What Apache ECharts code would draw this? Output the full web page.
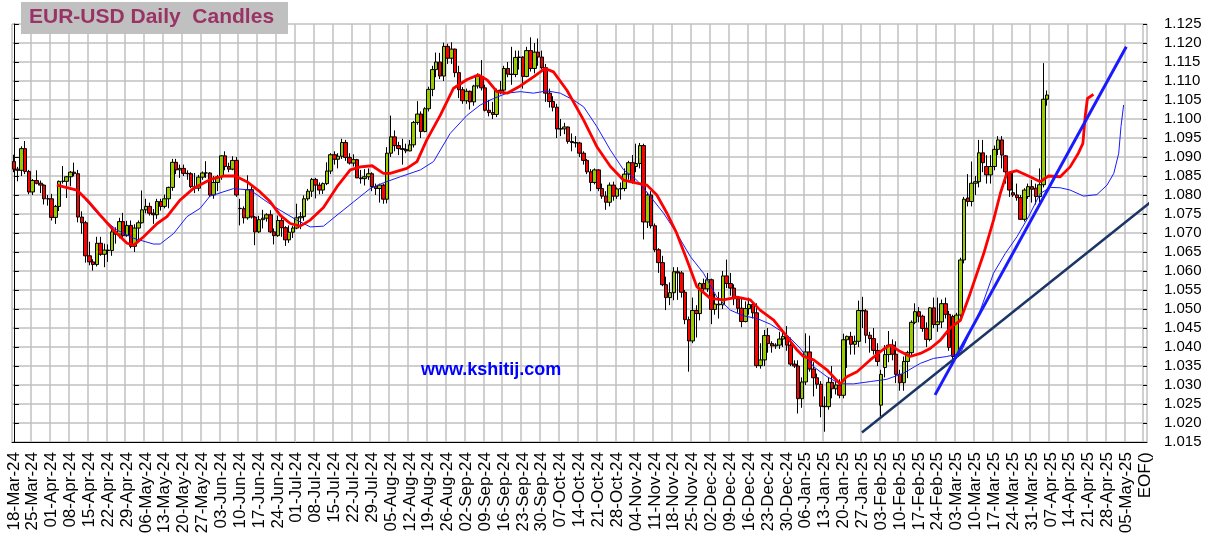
<!DOCTYPE html>
<html><head><meta charset="utf-8">
<script src="https://cdn.jsdelivr.net/npm/echarts@6/dist/echarts.min.js"></script>
<style>html,body{margin:0;padding:0;background:#fff}#c{width:1210px;height:546px}</style>
</head><body><div id="c"></div>
<script>
// Weekly (Monday) tick labels; each week holds 5 trading-day slots
const weekLabels = ['18-Mar-24','25-Mar-24','01-Apr-24','08-Apr-24','15-Apr-24','22-Apr-24','29-Apr-24','06-May-24','13-May-24','20-May-24','27-May-24','03-Jun-24','10-Jun-24','17-Jun-24','24-Jun-24','01-Jul-24','08-Jul-24','15-Jul-24','22-Jul-24','29-Jul-24','05-Aug-24','12-Aug-24','19-Aug-24','26-Aug-24','02-Sep-24','09-Sep-24','16-Sep-24','23-Sep-24','30-Sep-24','07-Oct-24','14-Oct-24','21-Oct-24','28-Oct-24','04-Nov-24','11-Nov-24','18-Nov-24','25-Nov-24','02-Dec-24','09-Dec-24','16-Dec-24','23-Dec-24','30-Dec-24','06-Jan-25','13-Jan-25','20-Jan-25','27-Jan-25','03-Feb-25','10-Feb-25','17-Feb-25','24-Feb-25','03-Mar-25','10-Mar-25','17-Mar-25','24-Mar-25','31-Mar-25','07-Apr-25','14-Apr-25','21-Apr-25','28-Apr-25','05-May-25'];
const endLabel = 'EOF()';
const yMin = 1.015, yMax = 1.125, yStep = 0.005;

// Daily candles [open, close, low, high], one array per month
const c24_03 = [
[1.0888,1.0868,1.0860,1.0906],[1.0868,1.0865,1.0836,1.0874],[1.0865,1.0922,1.0850,1.0928],[1.0922,1.0862,1.0855,1.0942],[1.0862,1.0808,1.0802,1.0866],
[1.0808,1.0838,1.0800,1.0842],[1.0838,1.0831,1.0828,1.0865],[1.0831,1.0826,1.0805,1.0838],[1.0826,1.0790,1.0775,1.0828],[1.0790,1.0790,1.0772,1.0800]];
const c24_04 = [
[1.0790,1.0741,1.0733,1.0803],[1.0741,1.0770,1.0724,1.0774],[1.0770,1.0836,1.0758,1.0838],[1.0836,1.0836,1.0830,1.0876],[1.0836,1.0848,1.0792,1.0850],
[1.0848,1.0860,1.0823,1.0863],[1.0860,1.0856,1.0849,1.0885],[1.0856,1.0742,1.0728,1.0866],[1.0742,1.0727,1.0698,1.0757],[1.0727,1.0640,1.0622,1.0732],
[1.0640,1.0624,1.0615,1.0677],[1.0624,1.0617,1.0601,1.0631],[1.0617,1.0673,1.0612,1.0690],[1.0673,1.0644,1.0640,1.0690],[1.0644,1.0655,1.0610,1.0672],
[1.0655,1.0654,1.0624,1.0670],[1.0654,1.0703,1.0640,1.0714],[1.0703,1.0697,1.0672,1.0715],[1.0697,1.0730,1.0686,1.0740],[1.0730,1.0693,1.0681,1.0753],
[1.0693,1.0720,1.0690,1.0732],[1.0720,1.0665,1.0660,1.0733]];
const c24_05 = [
[1.0665,1.0713,1.0650,1.0723],[1.0713,1.0727,1.0680,1.0733],[1.0727,1.0761,1.0725,1.0812],
[1.0761,1.0770,1.0752,1.0790],[1.0770,1.0752,1.0746,1.0780],[1.0752,1.0748,1.0724,1.0763],[1.0748,1.0783,1.0737,1.0790],[1.0783,1.0770,1.0759,1.0790],
[1.0770,1.0790,1.0765,1.0801],[1.0790,1.0820,1.0765,1.0822],[1.0820,1.0886,1.0811,1.0895],[1.0886,1.0866,1.0855,1.0895],[1.0866,1.0870,1.0845,1.0880],
[1.0870,1.0857,1.0850,1.0880],[1.0857,1.0856,1.0840,1.0865],[1.0856,1.0822,1.0818,1.0860],[1.0822,1.0818,1.0805,1.0858],[1.0818,1.0847,1.0810,1.0853],
[1.0847,1.0858,1.0840,1.0862],[1.0858,1.0858,1.0845,1.0889],[1.0858,1.0800,1.0795,1.0860],[1.0800,1.0833,1.0790,1.0850],[1.0833,1.0848,1.0810,1.0853]];
const c24_06 = [
[1.0848,1.0903,1.0840,1.0905],[1.0903,1.0875,1.0865,1.0915],[1.0875,1.0868,1.0860,1.0885],[1.0868,1.0891,1.0865,1.0902],[1.0891,1.0800,1.0795,1.0900],
[1.0765,1.0764,1.0720,1.0790],[1.0764,1.0740,1.0725,1.0770],[1.0740,1.0814,1.0735,1.0852],[1.0814,1.0742,1.0738,1.0825],[1.0742,1.0703,1.0668,1.0745],
[1.0703,1.0735,1.0700,1.0745],[1.0735,1.0739,1.0712,1.0761],[1.0739,1.0748,1.0730,1.0752],[1.0748,1.0703,1.0700,1.0760],[1.0703,1.0693,1.0670,1.0712],
[1.0693,1.0733,1.0690,1.0746],[1.0733,1.0714,1.0690,1.0740],[1.0714,1.0682,1.0666,1.0718],[1.0682,1.0702,1.0674,1.0720],[1.0702,1.0713,1.0687,1.0719]];
const c24_07 = [
[1.0713,1.0740,1.0710,1.0777],[1.0740,1.0743,1.0710,1.0755],[1.0743,1.0790,1.0732,1.0799],[1.0790,1.0810,1.0785,1.0816],[1.0810,1.0841,1.0795,1.0845],
[1.0841,1.0826,1.0791,1.0845],[1.0826,1.0813,1.0802,1.0833],[1.0813,1.0830,1.0803,1.0833],[1.0830,1.0863,1.0826,1.0886],[1.0863,1.0906,1.0855,1.0910],
[1.0906,1.0894,1.0880,1.0915],[1.0894,1.0902,1.0870,1.0910],[1.0902,1.0938,1.0895,1.0948],[1.0938,1.0899,1.0890,1.0945],[1.0899,1.0884,1.0880,1.0910],
[1.0884,1.0893,1.0875,1.0907],[1.0893,1.0845,1.0845,1.0895],[1.0845,1.0843,1.0830,1.0866],[1.0843,1.0848,1.0825,1.0868],[1.0848,1.0856,1.0840,1.0870],
[1.0856,1.0822,1.0810,1.0860],[1.0822,1.0817,1.0800,1.0830],[1.0817,1.0826,1.0780,1.0830]];
const c24_08 = [
[1.0826,1.0789,1.0777,1.0830],[1.0789,1.0910,1.0778,1.0926],
[1.0910,1.0953,1.0900,1.1009],[1.0953,1.0930,1.0915,1.0970],[1.0930,1.0922,1.0905,1.0940],[1.0922,1.0920,1.0880,1.0948],[1.0920,1.0916,1.0910,1.0935],
[1.0916,1.0932,1.0915,1.0945],[1.0932,1.0991,1.0925,1.0995],[1.0991,1.1013,1.0985,1.1047],[1.1013,1.0967,1.0950,1.1020],[1.0967,1.1027,1.0965,1.1031],
[1.1027,1.1078,1.1020,1.1085],[1.1078,1.1130,1.1060,1.1140],[1.1130,1.1150,1.1110,1.1175],[1.1150,1.1113,1.1105,1.1174],[1.1113,1.1191,1.1100,1.1201],
[1.1191,1.1160,1.1145,1.1198],[1.1160,1.1184,1.1145,1.1202],[1.1184,1.1122,1.1110,1.1185],[1.1122,1.1077,1.1055,1.1140],[1.1077,1.1048,1.1040,1.1084]];
const c24_09 = [
[1.1048,1.1073,1.1040,1.1080],[1.1073,1.1045,1.1025,1.1075],[1.1045,1.1087,1.1035,1.1090],[1.1087,1.1112,1.1080,1.1120],[1.1112,1.1082,1.1075,1.1155],
[1.1082,1.1023,1.1020,1.1090],[1.1023,1.1017,1.1007,1.1050],[1.1017,1.1012,1.1000,1.1045],[1.1012,1.1075,1.1005,1.1080],[1.1075,1.1076,1.1065,1.1100],
[1.1076,1.1133,1.1070,1.1140],[1.1133,1.1118,1.1110,1.1150],[1.1118,1.1117,1.1090,1.1190],[1.1117,1.1162,1.1110,1.1180],[1.1162,1.1163,1.1130,1.1180],
[1.1163,1.1112,1.1080,1.1165],[1.1112,1.1180,1.1110,1.1190],[1.1180,1.1133,1.1125,1.1215],[1.1133,1.1176,1.1120,1.1200],[1.1176,1.1163,1.1140,1.1212],
[1.1163,1.1135,1.1130,1.1180]];
const c24_10 = [
[1.1135,1.1068,1.1045,1.1145],[1.1068,1.1046,1.1030,1.1080],[1.1046,1.1031,1.1020,1.1060],[1.1031,1.0974,1.0950,1.1040],
[1.0974,1.0974,1.0955,1.1000],[1.0974,1.0979,1.0960,1.0990],[1.0979,1.0941,1.0935,1.0980],[1.0941,1.0938,1.0915,1.0962],[1.0938,1.0937,1.0925,1.0955],
[1.0937,1.0910,1.0900,1.0940],[1.0910,1.0891,1.0880,1.0915],[1.0891,1.0861,1.0855,1.0895],[1.0861,1.0833,1.0810,1.0868],[1.0833,1.0866,1.0828,1.0870],
[1.0866,1.0817,1.0810,1.0868],[1.0817,1.0797,1.0790,1.0830],[1.0797,1.0781,1.0761,1.0810],[1.0781,1.0826,1.0770,1.0833],[1.0826,1.0797,1.0785,1.0835],
[1.0797,1.0816,1.0790,1.0820],[1.0816,1.0817,1.0788,1.0833],[1.0817,1.0855,1.0810,1.0870],[1.0855,1.0885,1.0840,1.0890]];
const c24_11 = [
[1.0885,1.0834,1.0830,1.0905],
[1.0875,1.0883,1.0860,1.0935],[1.0883,1.0930,1.0870,1.0937],[1.0930,1.0729,1.0683,1.0935],[1.0729,1.0800,1.0713,1.0806],[1.0800,1.0719,1.0712,1.0810],
[1.0719,1.0656,1.0650,1.0725],[1.0656,1.0622,1.0595,1.0660],[1.0622,1.0564,1.0560,1.0640],[1.0564,1.0530,1.0497,1.0585],[1.0530,1.0543,1.0510,1.0570],
[1.0543,1.0598,1.0523,1.0610],[1.0598,1.0595,1.0524,1.0610],[1.0595,1.0544,1.0530,1.0600],[1.0544,1.0472,1.0460,1.0550],[1.0472,1.0416,1.0335,1.0480],
[1.0416,1.0496,1.0410,1.0530],[1.0496,1.0488,1.0425,1.0510],[1.0488,1.0567,1.0470,1.0570],[1.0567,1.0553,1.0540,1.0580],[1.0553,1.0577,1.0545,1.0595]];
const c24_12 = [
[1.0577,1.0499,1.0460,1.0580],[1.0499,1.0513,1.0485,1.0540],[1.0513,1.0511,1.0475,1.0545],[1.0511,1.0587,1.0500,1.0600],[1.0587,1.0567,1.0555,1.0630],
[1.0567,1.0555,1.0535,1.0595],[1.0555,1.0527,1.0510,1.0565],[1.0527,1.0502,1.0490,1.0530],[1.0502,1.0467,1.0452,1.0530],[1.0467,1.0501,1.0465,1.0520],
[1.0501,1.0512,1.0485,1.0530],[1.0512,1.0490,1.0475,1.0520],[1.0490,1.0351,1.0345,1.0515],[1.0351,1.0366,1.0343,1.0410],[1.0366,1.0430,1.0350,1.0445],
[1.0430,1.0409,1.0385,1.0450],[1.0409,1.0403,1.0385,1.0415],[1.0403,1.0405,1.0395,1.0410],[1.0405,1.0421,1.0395,1.0440],[1.0421,1.0428,1.0400,1.0445],
[1.0428,1.0405,1.0390,1.0455],[1.0405,1.0355,1.0350,1.0425]];
const c25_01 = [
[1.0355,1.0350,1.0345,1.0365],[1.0350,1.0264,1.0225,1.0365],[1.0264,1.0308,1.0240,1.0320],
[1.0308,1.0387,1.0300,1.0436],[1.0387,1.0342,1.0335,1.0430],[1.0342,1.0319,1.0270,1.0360],[1.0319,1.0302,1.0290,1.0330],[1.0302,1.0244,1.0215,1.0310],
[1.0244,1.0243,1.0177,1.0270],[1.0243,1.0307,1.0235,1.0320],[1.0307,1.0290,1.0265,1.0350],[1.0290,1.0300,1.0275,1.0310],[1.0300,1.0273,1.0265,1.0315],
[1.0273,1.0419,1.0265,1.0435],[1.0419,1.0428,1.0345,1.0430],[1.0428,1.0407,1.0380,1.0440],[1.0407,1.0415,1.0380,1.0430],[1.0415,1.0496,1.0400,1.0522],
[1.0496,1.0495,1.0450,1.0532],[1.0495,1.0431,1.0410,1.0500],[1.0431,1.0422,1.0385,1.0440],[1.0422,1.0391,1.0380,1.0450],[1.0391,1.0362,1.0350,1.0410]];
const c25_02 = [
[1.0247,1.0328,1.0217,1.0340],[1.0346,1.0380,1.0320,1.0405],[1.0380,1.0405,1.0360,1.0442],[1.0405,1.0381,1.0365,1.0420],[1.0381,1.0328,1.0305,1.0415],
[1.0328,1.0306,1.0285,1.0340],[1.0306,1.0362,1.0285,1.0375],[1.0362,1.0385,1.0318,1.0390],[1.0385,1.0465,1.0375,1.0470],[1.0465,1.0493,1.0460,1.0515],
[1.0493,1.0481,1.0465,1.0505],[1.0481,1.0449,1.0440,1.0485],[1.0449,1.0420,1.0400,1.0465],[1.0420,1.0503,1.0415,1.0505],[1.0503,1.0459,1.0450,1.0530],
[1.0459,1.0466,1.0440,1.0530],[1.0466,1.0514,1.0450,1.0525],[1.0514,1.0486,1.0475,1.0530],[1.0486,1.0399,1.0390,1.0495],[1.0480,1.0375,1.0360,1.0485]];
const c25_03 = [
[1.0375,1.0484,1.0370,1.0490],[1.0484,1.0629,1.0475,1.0635],[1.0629,1.0789,1.0620,1.0795],[1.0792,1.0783,1.0770,1.0855],[1.0783,1.0831,1.0770,1.0888],
[1.0831,1.0835,1.0800,1.0850],[1.0835,1.0911,1.0820,1.0945],[1.0911,1.0885,1.0860,1.0945],[1.0875,1.0853,1.0830,1.0905],[1.0853,1.0875,1.0830,1.0905],
[1.0875,1.0920,1.0865,1.0930],[1.0920,1.0945,1.0905,1.0955],[1.0945,1.0905,1.0870,1.0955],[1.0903,1.0861,1.0830,1.0905],[1.0857,1.0813,1.0795,1.0860],
[1.0806,1.0800,1.0795,1.0860],[1.0800,1.0793,1.0785,1.0830],[1.0793,1.0736,1.0735,1.0800],[1.0736,1.0813,1.0730,1.0818],[1.0796,1.0822,1.0790,1.0830],
[1.0822,1.0815,1.0780,1.0840]];
const c25_04 = [
[1.0818,1.0796,1.0775,1.0830],[1.0796,1.0827,1.0780,1.0870],[1.0827,1.1052,1.0820,1.1147],[1.1052,1.1063,1.1035,1.1075]];

// Moving averages: [trading-day slot, price]
const redMA = [[11.4,1.0826],[16.7,1.0813],[19.4,1.0787],[22.9,1.0747],[26.4,1.0708],[30,1.0673],[31.8,1.0668],[34.4,1.0690],[38,1.0725],[40.6,1.0743],[44.1,1.0787],[47.7,1.0818],[52.1,1.0841],[55.6,1.0850],[58.7,1.0850],[61.8,1.0835],[65.3,1.0808],[68,1.0782],[70.6,1.0747],[73.3,1.0725],[75.9,1.0718],[78.6,1.0734],[82.1,1.0767],[85.7,1.0822],[89.2,1.0866],[91.9,1.0874],[95,1.0877],[98,1.0857],[99.8,1.0857],[104.2,1.0870],[106.9,1.0888],[109.5,1.0945],[113.1,1.1010],[116.6,1.1081],[120.2,1.1104],[123.2,1.1116],[125.5,1.1103],[128.1,1.1072],[130.8,1.1068],[134.3,1.1087],[137.8,1.1111],[140.9,1.1133],[143.1,1.1124],[146.7,1.1075],[151.1,1.0997],[154.6,1.0927],[158.2,1.0875],[161.7,1.0839],[165.2,1.0831],[167.9,1.0826],[170.5,1.0800],[173.2,1.0752],[175.8,1.0699],[178.5,1.0629],[181.1,1.0559],[184.7,1.0528],[188.2,1.0524],[191.8,1.0531],[195.3,1.0524],[197.9,1.0497],[201.5,1.0471],[205,1.0427],[207.7,1.0392],[209.4,1.0375],[212.1,1.0366],[215.6,1.0340],[219.1,1.0303],[220.9,1.0322],[223.6,1.0335],[227.1,1.0366],[230.6,1.0394],[232.4,1.0405],[235.1,1.0388],[237.7,1.0375],[240.4,1.0383],[243,1.0396],[245.7,1.0418],[248.3,1.0450],[251,1.0470],[253.6,1.0541],[257.2,1.0646],[259.8,1.0734],[261.6,1.0804],[263.3,1.0857],[266,1.0864],[269.5,1.0848],[272.2,1.0835],[274.4,1.0850],[277.5,1.0848],[280.1,1.0874],[282.3,1.0910],[283.5,1.0936],[284.1,1.1006],[284.7,1.1054],[286.3,1.1065]];
const blueMA = [[19,1.0787],[22.9,1.0743],[27.3,1.0708],[31.8,1.0686],[37,1.0671],[38.8,1.0671],[42.4,1.0699],[45.9,1.0743],[49.4,1.0765],[52,1.0797],[58.3,1.0817],[62.7,1.0813],[67.1,1.0782],[70.6,1.0760],[75,1.0734],[78.6,1.0716],[82.1,1.0718],[85.7,1.0747],[90.1,1.0782],[94.5,1.0817],[98,1.0832],[102.5,1.0848],[107.8,1.0866],[111.3,1.0888],[115.7,1.0962],[120.2,1.1010],[123.7,1.1037],[127.2,1.1054],[130.8,1.1068],[134.3,1.1072],[137.8,1.1068],[141.4,1.1074],[144.9,1.1068],[148.4,1.1050],[151.1,1.1032],[154.6,1.0980],[158.2,1.0918],[161.7,1.0866],[165.2,1.0839],[168.8,1.0796],[172.3,1.0752],[175.8,1.0699],[179.4,1.0638],[182.9,1.0594],[186.4,1.0532],[190,1.0497],[193.5,1.0482],[197.1,1.0475],[200.6,1.0460],[205,1.0432],[208.5,1.0397],[212.1,1.0348],[215.6,1.0322],[219.1,1.0303],[222.7,1.0303],[227.1,1.0309],[231.5,1.0315],[235.9,1.0331],[240.4,1.0357],[243.9,1.0370],[247.4,1.0375],[251,1.0383],[256.3,1.0497],[259.8,1.0594],[262.9,1.0646],[266,1.0690],[269.1,1.0743],[272.2,1.0804],[274.9,1.0820],[277.5,1.0819],[280.1,1.0813],[283.7,1.0797],[287.2,1.0801],[289.9,1.0826],[291.7,1.0857],[293,1.0910],[293.6,1.0980],[294.3,1.1037]];
// Trend lines: [slot, price] end points
const trendSteep = [[244.3,1.0274],[295.0,1.1190]];
const trendShallow = [[224.9,1.0175],[301.3,1.0780]];

const FONT = 'Liberation Sans, Arial, sans-serif';
const categories = [];
weekLabels.forEach(w => { categories.push(w); for (let d = 1; d < 5; d++) categories.push(w + '|' + d); });
categories.push(endLabel);
const candles = [].concat(c24_03, c24_04, c24_05, c24_06, c24_07, c24_08, c24_09, c24_10, c24_11, c24_12, c25_01, c25_02, c25_03, c25_04);
const nCat = categories.length;
const weekly = (i) => i % 5 === 0;

const chart = echarts.init(document.getElementById('c'), null, {renderer: 'canvas'});
chart.setOption({
  animation: false,
  backgroundColor: '#ffffff',
  grid: {left: 12, right: 63, top: 24, bottom: 104},
  xAxis: [
    {type: 'category', data: categories, boundaryGap: true,
     axisLine: {lineStyle: {color: '#000', width: 1}},
     axisTick: {interval: weekly, length: 3, lineStyle: {color: '#000'}},
     axisLabel: {interval: weekly, rotate: 90, fontSize: 17, color: '#000', fontFamily: FONT, margin: 10,
                 formatter: v => v.split('|')[0]},
     splitLine: {show: true, interval: weekly, lineStyle: {color: '#c0c0c0', width: 1.5}}},
    {type: 'value', min: -0.5, max: nCat - 0.5, show: false},
    {type: 'category', data: categories, boundaryGap: true, position: 'bottom',
     axisLine: {show: false}, axisTick: {inside: true, interval: weekly, length: 3, lineStyle: {color: '#000'}},
     axisLabel: {show: false}, splitLine: {show: false}}
  ],
  yAxis: [
    {type: 'value', position: 'right', min: yMin, max: yMax, interval: yStep,
     axisLine: {show: true, lineStyle: {color: '#000'}},
     axisTick: {show: true, length: 5, lineStyle: {color: '#000'}},
     axisLabel: {formatter: v => v.toFixed(3), fontSize: 15, color: '#000', fontFamily: FONT, margin: 17},
     splitLine: {show: true, lineStyle: {color: '#c0c0c0', width: 1.5}}},
    {type: 'value', position: 'right', min: yMin, max: yMax, interval: yStep,
     axisLine: {show: false}, axisTick: {show: true, inside: true, length: 4, lineStyle: {color: '#000'}},
     axisLabel: {show: false}, splitLine: {show: false}}
  ],
  series: [
    {type: 'candlestick', xAxisIndex: 0, yAxisIndex: 0, data: candles, barWidth: 4,
     itemStyle: {color: '#99cc00', color0: '#ff0000', borderColor: '#000', borderColor0: '#000', borderWidth: 1}},
    {type: 'line', xAxisIndex: 1, yAxisIndex: 0, data: blueMA, showSymbol: false, silent: true,
     lineStyle: {color: '#1a1aff', width: 1}},
    {type: 'line', xAxisIndex: 1, yAxisIndex: 0, data: redMA, showSymbol: false, silent: true,
     lineStyle: {color: '#ff0000', width: 2.8}},
    {type: 'line', xAxisIndex: 1, yAxisIndex: 0, data: trendShallow, showSymbol: false, silent: true, clip: false,
     lineStyle: {color: '#1b3566', width: 2.5}},
    {type: 'line', xAxisIndex: 1, yAxisIndex: 0, data: trendSteep, showSymbol: false, silent: true, clip: false,
     lineStyle: {color: '#1a1aff', width: 3}}
  ],
  graphic: [
    {type: 'rect', left: 21, top: 2, shape: {width: 267, height: 32}, style: {fill: '#c0c0c0'}, z: 100},
    {type: 'text', left: 29, top: 7, style: {text: 'EUR-USD Daily  Candles', fill: '#993366', font: 'bold 21px ' + FONT}, z: 101},
    {type: 'text', left: 421, top: 361, style: {text: 'www.kshitij.com', fill: '#0000ff', font: 'bold 18px ' + FONT}, z: 101}
  ]
});
</script>
</body></html>
